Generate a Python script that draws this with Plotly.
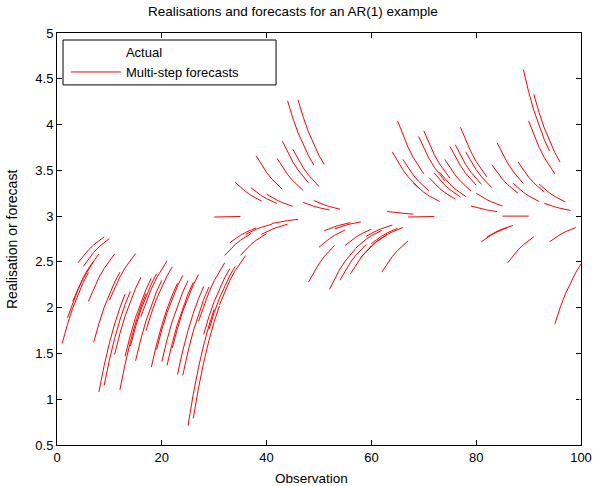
import plotly.graph_objects as go

# Observation index and realised series of the AR(1) process
obs = list(range(1, 101))
actual = [
    1.61, 1.89, 2.07, 2.49, 2.45, 2.07, 1.62, 1.08, 1.15, 2.08,
    1.49, 1.10, 1.47, 1.58, 1.42, 1.90, 1.75, 1.35, 1.54, 1.41,
    1.37, 1.56, 1.27, 1.26, 0.71, 0.79, 1.85, 1.71, 1.76, 2.99,
    2.03, 2.57, 2.71, 3.37, 2.57, 2.80, 3.31, 3.66, 2.80, 3.24,
    2.92, 3.63, 3.82, 4.26, 3.73, 4.27, 3.15, 2.28, 3.17, 2.66,
    2.84, 2.20, 2.86, 2.30, 2.68, 2.37, 2.65, 2.55, 2.78, 2.70,
    2.72, 2.39, 3.05, 3.70, 4.04, 3.62, 2.99, 3.36, 3.87, 3.93,
    3.42, 3.47, 3.48, 3.62, 3.76, 3.78, 3.97, 3.70, 3.11, 3.25,
    2.72, 2.77, 3.56, 3.80, 3.00, 2.49, 3.36, 3.59, 4.60, 4.04,
    4.33, 3.35, 3.14, 2.72, 1.82, 1.60, 1.45, 1.30, 1.35, 0.90,
]

# AR(1) model: y_t - mu = phi * (y_{t-1} - mu) + e_t
mu = 3.0
phi = 0.85
horizon = 5
origins = list(range(1, 96))

x_ticks = [0, 20, 40, 60, 80, 100]
y_ticks = [0.5, 1, 1.5, 2, 2.5, 3, 3.5, 4, 4.5, 5]

# Multi-step forecasts from every origin, joined into one trace with gaps
fx, fy = [], []
for t in origins:
    y0 = actual[t - 1]
    for h in range(horizon + 1):
        fx.append(t + h)
        fy.append(mu + phi ** h * (y0 - mu))
    fx.append(None)
    fy.append(None)

font = "Liberation Sans, Arial, sans-serif"
txt = dict(family=font, size=13, color="black")
title_txt = dict(family=font, size=13.5, color="black")
ylab_txt = dict(family=font, size=14, color="black")

fig = go.Figure()
fig.add_trace(go.Scatter(
    x=obs, y=actual, mode="lines", name="Actual",
    line=dict(color="white", width=1),
))
fig.add_trace(go.Scatter(
    x=fx, y=fy, mode="lines", name="Multi-step forecasts",
    line=dict(color="#ff0000", width=1),
))

axis_common = dict(
    showline=True, linecolor="black", linewidth=1, mirror="allticks",
    ticks="inside", ticklen=5, tickcolor="black", tickwidth=1,
    showgrid=False, zeroline=False, layer="below traces",
    automargin=False, tickfont=txt,
)

# Legend frame
legend_box = dict(x0=0.0115, x1=0.418, y0=0.874, y1=0.983)

fig.update_layout(
    width=594, height=486,
    margin=dict(l=57, r=13, t=33, b=41),
    paper_bgcolor="white", plot_bgcolor="white",
    xaxis=dict(range=[0, 100], tickvals=x_ticks, **axis_common),
    yaxis=dict(
        range=[0.5, 5], tickvals=y_ticks, ticktext=[f"{v:g}" for v in y_ticks],
        **axis_common,
    ),
    annotations=[
        dict(text="Realisations and forecasts for an AR(1) example",
             xref="paper", yref="paper", x=0.4513, y=1.051,
             xanchor="center", yanchor="middle", showarrow=False, font=title_txt),
        dict(text="Observation",
             xref="paper", yref="paper", x=0.4857, y=-0.0801,
             xanchor="center", yanchor="middle", showarrow=False, font=title_txt),
        dict(text="Realisation or forecast", textangle=-90,
             xref="paper", yref="paper", x=-0.0859, y=0.5,
             xanchor="center", yanchor="middle", showarrow=False, font=ylab_txt),
    ],
    shapes=[dict(
        type="rect", xref="paper", yref="paper", layer="above",
        line=dict(color="black", width=1), fillcolor="white",
        **legend_box,
    )],
    legend=dict(
        x=0.017, y=0.990, xanchor="left", yanchor="top",
        bgcolor="rgba(0,0,0,0)", borderwidth=0,
        font=txt, itemwidth=50, tracegroupgap=0,
    ),
    showlegend=True,
)

fig.write_html("out.html")
